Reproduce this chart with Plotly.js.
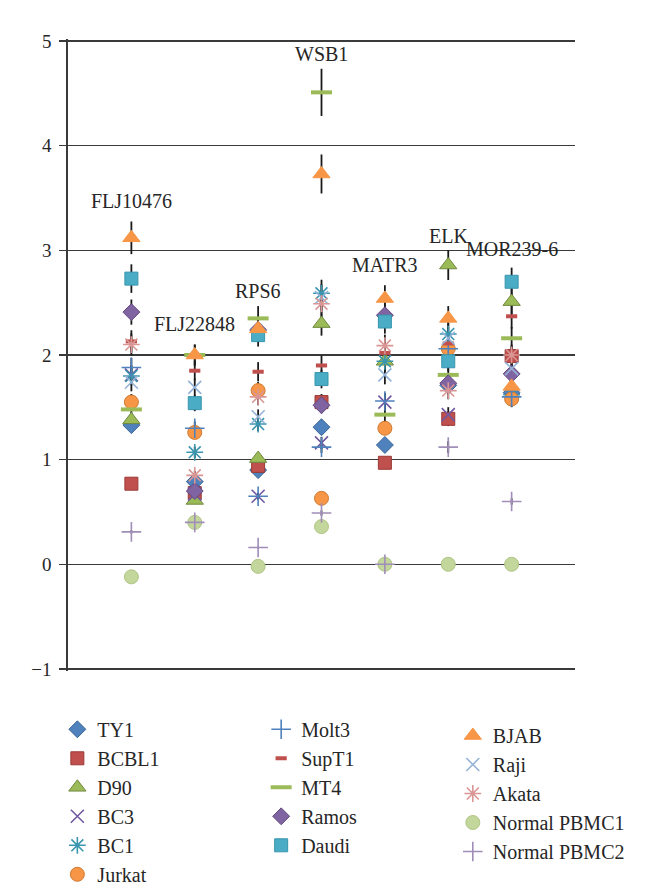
<!DOCTYPE html>
<html>
<head>
<meta charset="utf-8">
<script src="https://cdn.plot.ly/plotly-3.0.1.min.js"></script>
<style>
  html, body { margin: 0; padding: 0; background: #ffffff; }
  #chart { width: 668px; height: 893px; }
</style>
</head>
<body>
<div id="chart"></div>
<script>
// ---- data ----
const genes = ['FLJ10476', 'FLJ22848', 'RPS6', 'WSB1', 'MATR3', 'ELK', 'MOR239-6'];

const TY1    = [1.33, 0.79, 0.90, 1.31, 1.14, 1.71, 1.64];
const BCBL1  = [0.77, 0.68, 0.94, 1.55, 0.97, 1.39, 1.99];
const D90    = [1.38, 0.61, 1.01, 2.30, 1.94, 2.86, 2.51];
const BC3    = [1.81, 0.67, 0.65, 1.16, 1.55, 1.43, 1.62];
const BC1    = [1.80, 1.07, 1.34, 2.59, 1.94, 2.20, 1.62];
const Jurkat = [1.55, 1.26, 1.66, 0.63, 1.30, 2.06, 1.58];
const Molt3  = [1.88, 1.30, 0.65, 1.12, 1.56, 2.06, 1.60];
const SupT1  = [2.13, 1.85, 1.84, 1.90, 2.02, 2.11, 2.37];
const MT4    = [1.48, 2.00, 2.35, 4.51, 1.43, 1.81, 2.16];
const Ramos  = [2.41, 0.70, 2.24, 1.52, 2.38, 1.73, 1.82];
const Daudi  = [2.73, 1.54, 2.19, 1.77, 2.32, 1.94, 2.70];
const BJAB   = [3.12, 2.00, 2.25, 3.73, 2.54, 2.35, 1.70];
const Raji   = [1.74, 1.69, 1.41, 2.55, 1.81, 2.16, 1.87];
const Akata  = [2.10, 0.85, 1.60, 2.49, 2.09, 1.66, 2.00];
const PBMC1  = [-0.12, 0.40, -0.02, 0.36, 0.00, 0.00, 0.00];
const PBMC2  = [0.31, 0.40, 0.16, 0.49, 0.00, 1.12, 0.60];

const errorPercent = 5;           // percentage error bars
const yTicks = [-1, 0, 1, 2, 3, 4, 5];

// ---- styling ----
const FONT = '"Liberation Serif", "DejaVu Serif", serif';
const INK = '#262626';
const GRID = '#3a3a3a';

const series = [
  {name: 'TY1',          y: TY1,    legend: 'legend',  symbol: 'diamond',       size: 13, color: '#4F81BD', line: '#3A6595', lw: 1},
  {name: 'BCBL1',        y: BCBL1,  legend: 'legend',  symbol: 'square',        size: 13, color: '#C0504D', line: '#9A3A37', lw: 1},
  {name: 'D90',          y: D90,    legend: 'legend',  symbol: 'triangle-up',   size: 15, color: '#9BBB59', line: '#71893F', lw: 1},
  {name: 'BC3',          y: BC3,    legend: 'legend',  symbol: 'x-thin',        size: 13, color: '#8064A2', line: '#7059A0', lw: 1.6},
  {name: 'BC1',          y: BC1,    legend: 'legend',  symbol: 'asterisk',      size: 14, color: '#4BACC6', line: '#3A95AE', lw: 1.6},
  {name: 'Jurkat',       y: Jurkat, legend: 'legend',  symbol: 'circle',        size: 14, color: '#F79646', line: '#D07A32', lw: 1},
  {name: 'Molt3',        y: Molt3,  legend: 'legend2', symbol: 'cross-thin',    size: 14, color: '#4F81BD', line: '#4F81BD', lw: 1.6},
  {name: 'SupT1',        y: SupT1,  legend: 'legend2', symbol: 'line-ew',       size: 8,  color: '#C0504D', line: '#C0504D', lw: 4},
  {name: 'MT4',          y: MT4,    legend: 'legend2', symbol: 'line-ew',       size: 15, color: '#9BBB59', line: '#9BBB59', lw: 4},
  {name: 'Ramos',        y: Ramos,  legend: 'legend2', symbol: 'diamond',       size: 13, color: '#8064A2', line: '#64497F', lw: 1},
  {name: 'Daudi',        y: Daudi,  legend: 'legend2', symbol: 'square',        size: 13, color: '#4BACC6', line: '#3795AD', lw: 1},
  {name: 'BJAB',         y: BJAB,   legend: 'legend3', symbol: 'triangle-up',   size: 15, color: '#F79646', line: '#F79646', lw: 1},
  {name: 'Raji',         y: Raji,   legend: 'legend3', symbol: 'x-thin',        size: 13, color: '#95B3D7', line: '#95B3D7', lw: 1.6},
  {name: 'Akata',        y: Akata,  legend: 'legend3', symbol: 'asterisk',      size: 14, color: '#D99694', line: '#D99694', lw: 1.6},
  {name: 'Normal PBMC1', y: PBMC1,  legend: 'legend3', symbol: 'circle',        size: 14, color: '#C3D69B', line: '#AFC584', lw: 1},
  {name: 'Normal PBMC2', y: PBMC2,  legend: 'legend3', symbol: 'cross-thin',    size: 14, color: '#B3A2C7', line: '#A08DB8', lw: 1.6}
];

const xPos = genes.map((g, i) => i + 1);

// error-bar traces first (drawn beneath all markers)
const errTraces = series.map(s => ({
  type: 'scatter', mode: 'markers', x: xPos, y: s.y,
  marker: {size: 1, opacity: 0},
  error_y: {type: 'percent', value: errorPercent, symmetric: true, color: '#1a1a1a', thickness: 1.8, width: 0},
  showlegend: false, hoverinfo: 'skip'
}));

const markerTraces = series.map(s => ({
  type: 'scatter', mode: 'markers', name: s.name, x: xPos, y: s.y,
  legend: s.legend,
  marker: {symbol: s.symbol, size: s.size, color: s.color, opacity: 1,
           line: {color: s.line, width: s.lw}},
  text: genes, hovertemplate: '%{text}: %{y}<extra>' + s.name + '</extra>'
}));

// gene labels above each column
const labelY = [3.47, 2.30, 2.61, 4.88, 2.86, 3.14, 3.01];
const annotations = genes.map((g, i) => ({
  x: xPos[i], y: labelY[i], xref: 'x', yref: 'y', text: g, showarrow: false,
  xanchor: 'center', yanchor: 'middle',
  font: {family: FONT, size: 20, color: INK}
}));

const legendBase = {
  font: {family: FONT, size: 20, color: INK},
  bgcolor: 'rgba(0,0,0,0)', borderwidth: 0,
  xanchor: 'left', yanchor: 'top', orientation: 'v', traceorder: 'normal',
  itemclick: false, itemdoubleclick: false
};

const layout = {
  width: 668, height: 893,
  margin: {l: 68, r: 93, t: 39, b: 222, autoexpand: false},
  paper_bgcolor: '#ffffff', plot_bgcolor: '#ffffff',
  font: {family: FONT, color: INK},
  showlegend: true,
  xaxis: {range: [0, 8], visible: false, fixedrange: true},
  yaxis: {
    range: [-1.02, 5.02], tickvals: yTicks, ticktext: yTicks.map(v => v < 0 ? '\u2212' + Math.abs(v) : String(v)),
    showgrid: true, gridcolor: GRID, gridwidth: 1.4,
    zeroline: false, showline: true, linecolor: GRID, linewidth: 1.8,
    ticks: 'outside', ticklen: 7, tickcolor: GRID, tickwidth: 1.4,
    ticklabelstandoff: 4,
    tickfont: {family: FONT, size: 19, color: INK}, fixedrange: true
  },
  legend:  Object.assign({}, legendBase, {x: -0.021, y: -0.0614}),
  legend2: Object.assign({}, legendBase, {x: 0.381, y: -0.0614}),
  legend3: Object.assign({}, legendBase, {x: 0.759, y: -0.0712}),
  annotations: annotations
};

Plotly.newPlot('chart', errTraces.concat(markerTraces), layout, {displayModeBar: false, staticPlot: true});
</script>
</body>
</html>
